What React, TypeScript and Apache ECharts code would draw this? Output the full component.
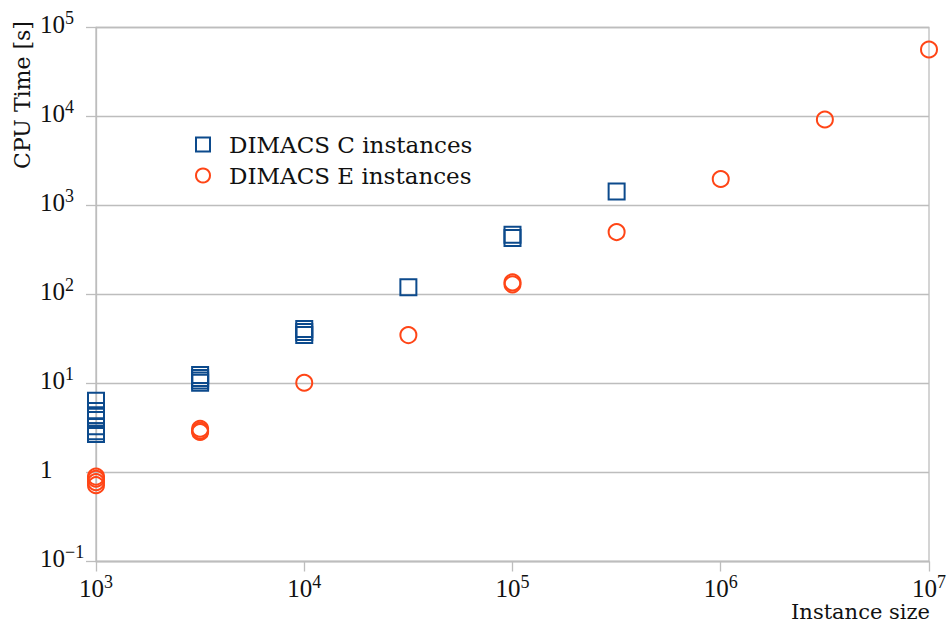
import React, { useEffect, useRef } from "react";
import * as echarts from "echarts";

const seriesNames = ["DIMACS C instances", "DIMACS E instances"];

// DIMACS C instances: [instance size, CPU time (s)]
const cSizes = [1000, 1000, 1000, 1000, 1000, 1000, 1000, 3162, 3162, 3162, 3162, 10000, 10000, 10000, 31623, 100000, 100000, 316228];
const cTimes = [6.4, 4.9, 4.4, 3.9, 3.3, 2.9, 2.7, 12.5, 11.5, 10.8, 10.2, 41, 38, 35, 121, 470, 430, 1436];

// DIMACS E instances
const eSizes = [1000, 1000, 1000, 1000, 3162, 3162, 3162, 10000, 31623, 100000, 100000, 316228, 1000000, 3162278, 10000000];
const eTimes = [0.9, 0.85, 0.78, 0.72, 3.1, 2.95, 2.85, 10.2, 35, 137, 130, 503, 1986, 9250, 56600];

const xTicks = [1000, 10000, 100000, 1000000, 10000000];
const yTicks = [0.1, 1, 10, 100, 1000, 10000, 100000];

const BLUE = "#0c4a8c";
const ORANGE = "#ff4516";
const GRID = "#bdbdbd";
const NUM_FONT = "Liberation Serif";
const WORD_FONT = "DejaVu Serif";

function expLabel(v: number): string {
  const e = Math.round(Math.log10(v));
  if (e === 0) return "{b|1}";
  const s = e < 0 ? "\u2212" + Math.abs(e) : String(e);
  return "{b|10}{s|" + s + "}";
}

const rich = {
  b: { fontFamily: NUM_FONT, fontSize: 25, lineHeight: 28, verticalAlign: "bottom", color: "#111" },
  s: { fontFamily: NUM_FONT, fontSize: 18, lineHeight: 14, verticalAlign: "top", color: "#111" },
};

export default function App() {
  const ref = useRef<HTMLDivElement>(null);
  useEffect(() => {
    if (!ref.current) return;
    const chart = echarts.init(ref.current, undefined, { renderer: "svg" });
    const cData = cSizes.map((x, i) => [x, cTimes[i]]);
    const eData = eSizes.map((x, i) => [x, eTimes[i]]);
    chart.setOption({
      animation: false,
      backgroundColor: "#ffffff",
      grid: {
        left: 96,
        top: 27.5,
        right: 18.5,
        bottom: 61.5,
        show: true,
        borderColor: GRID,
        borderWidth: 1.3,
        backgroundColor: "transparent",
      },
      legend: {
        orient: "vertical",
        left: 190,
        top: 128,
        itemWidth: 14,
        itemHeight: 14,
        itemGap: 8,
        textStyle: { fontFamily: WORD_FONT, fontSize: 23, color: "#111", padding: [0, 0, 0, 14], lineHeight: 16 },
        data: [
          { name: seriesNames[0], icon: "rect", itemStyle: { color: "rgba(0,0,0,0)", borderColor: BLUE, borderWidth: 2, opacity: 1 } },
          { name: seriesNames[1], icon: "circle", itemStyle: { color: "rgba(0,0,0,0)", borderColor: ORANGE, borderWidth: 2, opacity: 1 } },
        ],
      },
      xAxis: {
        type: "log",
        logBase: 10,
        min: xTicks[0],
        max: xTicks[xTicks.length - 1],
        axisLine: { show: true, lineStyle: { color: GRID, width: 1.3 } },
        axisTick: { show: true, length: 10, lineStyle: { color: GRID, width: 1.3 } },
        splitLine: { show: false },
        minorTick: { show: false },
        axisLabel: { margin: 11, formatter: expLabel, rich, showMinLabel: true, showMaxLabel: true },
      },
      yAxis: {
        type: "log",
        logBase: 10,
        min: yTicks[0],
        max: yTicks[yTicks.length - 1],
        axisLine: { show: true, lineStyle: { color: GRID, width: 1.3 } },
        axisTick: { show: true, length: 10, lineStyle: { color: GRID, width: 1.3 } },
        splitLine: { show: true, lineStyle: { color: GRID, width: 1.3 } },
        axisLabel: { margin: 56, align: "left", padding: [0, 0, 10, 0], formatter: expLabel, rich, showMinLabel: true, showMaxLabel: true },
      },
      graphic: [
        {
          type: "text",
          x: 22,
          y: 95,
          rotation: Math.PI / 2,
          style: { text: "CPU Time [s]", fontFamily: WORD_FONT, fontSize: 22, fill: "#111", align: "center", verticalAlign: "middle" },
        },
        {
          type: "text",
          x: 930,
          y: 612,
          style: { text: "Instance size", fontFamily: WORD_FONT, fontSize: 21, fill: "#111", align: "right", verticalAlign: "middle" },
        },
      ],
      series: [
        {
          name: seriesNames[0],
          type: "scatter",
          symbol: "rect",
          symbolSize: 16,
          data: cData,
          itemStyle: { color: "rgba(0,0,0,0)", borderColor: BLUE, borderWidth: 2, opacity: 1 },
        },
        {
          name: seriesNames[1],
          type: "scatter",
          symbol: "circle",
          symbolSize: 16,
          data: eData,
          itemStyle: { color: "rgba(0,0,0,0)", borderColor: ORANGE, borderWidth: 2, opacity: 1 },
        },
      ],
    });
    return () => chart.dispose();
  }, []);
  return <div ref={ref} style={{ position: "fixed", left: 0, top: 0, width: 949, height: 623 }} />;
}
